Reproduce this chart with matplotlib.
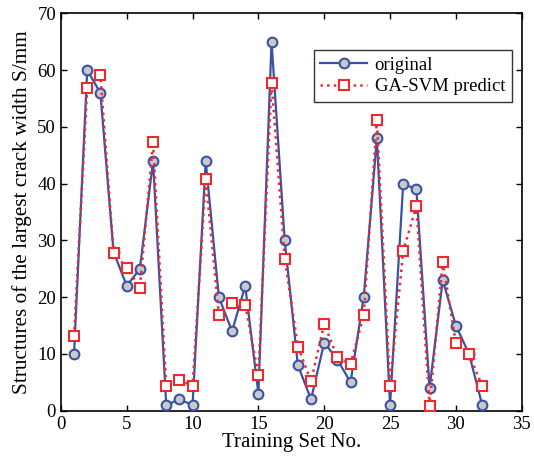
import matplotlib
matplotlib.use("Agg")
import matplotlib.pyplot as plt

plt.rcParams['font.family'] = ['Liberation Serif', 'DejaVu Serif']
plt.rcParams['mathtext.fontset'] = 'stix'

sample_no = list(range(1, 33))
original = [10, 60, 56, 28, 22, 25, 44, 1, 2, 1, 44, 20, 14, 22, 3, 65,
            30, 8, 2, 12, 9, 5, 20, 48, 1, 40, 39, 4, 23, 15, 10, 1]
predicted = [13.2, 56.8, 59.2, 27.8, 25.2, 21.7, 47.3, 4.3, 5.5, 4.3, 40.9,
             16.9, 18.9, 18.7, 6.3, 57.8, 26.8, 11.3, 5.2, 15.3, 9.4, 8.2,
             16.8, 51.3, 4.3, 28.2, 36.0, 0.9, 26.2, 11.9, 10.0, 4.3]

fig = plt.figure(figsize=(5.34, 4.62), dpi=100)
ax = fig.add_axes([0.114, 0.111, 0.863, 0.860])

blue = '#3a52a4'
red = '#ee2a2e'

ax.plot(sample_no, original, '-', color=blue, lw=1.6, marker='o', ms=7,
        mfc='#c9c9c9', mec=blue, mew=1.5, label='original', zorder=3)
ax.plot(sample_no, predicted, ':', color=red, lw=1.8, marker='s', ms=7,
        mfc='white', mec=red, mew=1.5, label='GA-SVM predict', zorder=4)

ax.set_xlim(0, 35)
ax.set_ylim(0, 70)
ax.set_xticks(range(0, 36, 5))
ax.set_yticks(range(0, 71, 10))
ax.tick_params(direction='in', top=True, right=True, labelsize=13.5,
               length=4, width=1)
for s in ax.spines.values():
    s.set_linewidth(1.2)

ax.set_xlabel('Training Set No.', fontsize=15, labelpad=0)
ax.set_ylabel('Structures of the largest crack width S/mm', fontsize=15.3,
              labelpad=4)

leg = ax.legend(loc='upper right', bbox_to_anchor=(0.978, 0.908),
                borderaxespad=0, fontsize=13.5, frameon=True, fancybox=False,
                handlelength=2.5, borderpad=0.35, labelspacing=0.25,
                handletextpad=0.4)
leg.get_frame().set_edgecolor('black')
leg.get_frame().set_linewidth(1.0)

fig.savefig('out.png', dpi=100)
